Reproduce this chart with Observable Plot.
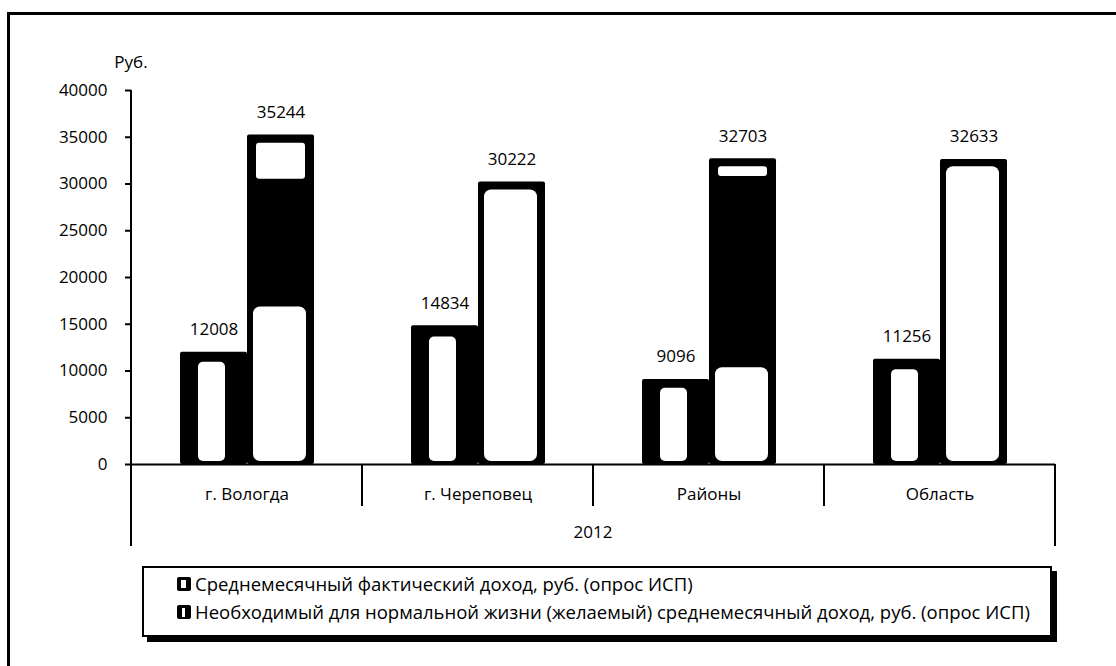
<!DOCTYPE html>
<html>
<head>
<meta charset="utf-8">
<script src="https://cdn.jsdelivr.net/npm/d3@7"></script>
<script src="https://cdn.jsdelivr.net/npm/@observablehq/plot@0.6"></script>
<style>
  html, body { margin: 0; padding: 0; background: #fff; }
  body { width: 1116px; height: 666px; position: relative; overflow: hidden; font-family: "Open Sans", sans-serif; }
  #frame { position: absolute; left: 7px; top: 12px; width: 1200px; height: 800px; border-top: 3px solid #000; border-left: 3px solid #000; }
  #chart { position: absolute; left: 0; top: 0; }
  #legend { position: absolute; left: 142px; top: 566px; width: 906px; height: 67px; border: 2px solid #000; box-shadow: 5px 5px 0 #000; background: #fff; font-size: 18.5px; line-height: 24px; color: #000; }
  #legend .item { position: absolute; left: 33px; display: flex; align-items: center; white-space: nowrap; }
  #legend svg { margin-right: 3px; }
</style>
</head>
<body>
<div id="frame"></div>
<div id="chart"></div>
<div id="legend"></div>
<script>
// ---- data ----
const categories = ["г. Вологда", "г. Череповец", "Районы", "Область"];
const seriesNames = [
  "Среднемесячный фактический доход, руб. (опрос ИСП)",
  "Необходимый для нормальной жизни (желаемый) среднемесячный доход, руб. (опрос ИСП)"
];
const actualIncome = [12008, 14834, 9096, 11256];
const desiredIncome = [35244, 30222, 32703, 32633];
// light (white) zones visible inside the scanned bars
const actualLight = [11800, 14500, 9000, 11000];
const desiredLight = [17500, 30000, 11000, 32500];
const upperLightCats = ["г. Вологда", "Районы"];
const upperLightFrom = [30500, 30800];
const upperLightTo = [35000, 32500];
const yearLabel = "2012";
const unitLabel = "Руб.";
const yTicks = [0, 5000, 10000, 15000, 20000, 25000, 30000, 35000, 40000];

const rows = categories.flatMap((c, i) => [
  {cat: c, series: seriesNames[0], value: actualIncome[i], light: actualLight[i]},
  {cat: c, series: seriesNames[1], value: desiredIncome[i], light: desiredLight[i]}
]);
const upper = upperLightCats.map((c, i) => ({cat: c, series: seriesNames[1], y1: upperLightFrom[i], y2: upperLightTo[i]}));

const FONT = "Open Sans, sans-serif";
const FS = 17;

const plot = Plot.plot({
  width: 1116,
  height: 666,
  marginLeft: 131,
  marginRight: 61,
  marginTop: 90,
  marginBottom: 202,
  style: {fontFamily: FONT, fontSize: FS + "px", color: "#000", background: "transparent"},
  fx: {domain: categories, padding: 0, paddingOuter: 0, label: null},
  x: {domain: seriesNames, paddingInner: 0, paddingOuter: 0.7, axis: null},
  y: {domain: [0, 40000], label: null},
  marks: [
    Plot.barY(rows, {fx: "cat", x: "series", y: "value", fill: "#000", rx: 2}),
    Plot.barY(rows.filter(d => d.series === seriesNames[0]), {fx: "cat", x: "series", y1: 0, y2: "light", fill: "#fff", insetLeft: 18, insetRight: 22, insetBottom: 3, insetTop: 8, rx: 5}),
    Plot.barY(rows.filter(d => d.series === seriesNames[1]), {fx: "cat", x: "series", y1: 0, y2: "light", fill: "#fff", insetLeft: 6, insetRight: 8, insetBottom: 3, insetTop: 6, rx: 7}),
    Plot.barY(upper, {fx: "cat", x: "series", y1: "y1", y2: "y2", fill: "#fff", insetLeft: 9, insetRight: 9, insetTop: 6, rx: 3}),
    Plot.ruleY([0], {stroke: "#000", strokeWidth: 2}),
    Plot.text(rows, {fx: "cat", x: "series", y: "value", text: d => String(d.value), lineAnchor: "bottom", dy: -17, fontSize: FS, fill: "#000"}),
    Plot.axisY({ticks: yTicks, tickFormat: d => String(d), tickSize: 6, tickPadding: 18, fontSize: FS, stroke: "#000", strokeWidth: 2, label: null}),
    Plot.axisFx({anchor: "bottom", tickSize: 0, tickPadding: 23, fontSize: FS, label: null})
  ]
});
document.getElementById("chart").appendChild(plot);

// structure lines drawn from the library's scales
const fx = plot.scale("fx");
const y = plot.scale("y");
const svg = d3.select(plot);
const left = fx.apply(categories[0]);
const right = fx.apply(categories[categories.length - 1]) + fx.bandwidth;
const y0 = y.apply(0);
const g = svg.append("g").attr("stroke", "#000").attr("stroke-width", 2);
categories.forEach((c, i) => {
  const xx = fx.apply(c);
  g.append("line").attr("x1", xx).attr("x2", xx).attr("y1", y0).attr("y2", i === 0 ? y0 + 82 : y0 + 42);
});
g.append("line").attr("x1", right).attr("x2", right).attr("y1", y0).attr("y2", y0 + 82);
g.append("line").attr("x1", left).attr("x2", left).attr("y1", y.apply(40000)).attr("y2", y0 + 82);
svg.append("text").attr("x", (left + right) / 2).attr("y", y0 + 74).attr("text-anchor", "middle")
  .attr("font-family", FONT).attr("font-size", FS).attr("fill", "#000").text(yearLabel);
svg.append("text").attr("x", left).attr("y", y.apply(40000) - 22).attr("text-anchor", "middle")
  .attr("font-family", FONT).attr("font-size", FS).attr("fill", "#000").text(unitLabel);

// legend
const legend = document.getElementById("legend");
const markerInner = [[4, 3, 5, 8], [5, 3, 3, 9]];
seriesNames.forEach((name, i) => {
  const item = document.createElement("div");
  item.className = "item";
  item.style.top = (i === 0 ? 4 : 32) + "px";
  const m = markerInner[i];
  item.innerHTML = `<svg width="15" height="15"><rect x="0" y="0" width="14" height="14" rx="2" fill="#000"/><rect x="${m[0]}" y="${m[1]}" width="${m[2]}" height="${m[3]}" fill="#fff"/></svg><span>${name}</span>`;
  legend.appendChild(item);
});
</script>
</body>
</html>
